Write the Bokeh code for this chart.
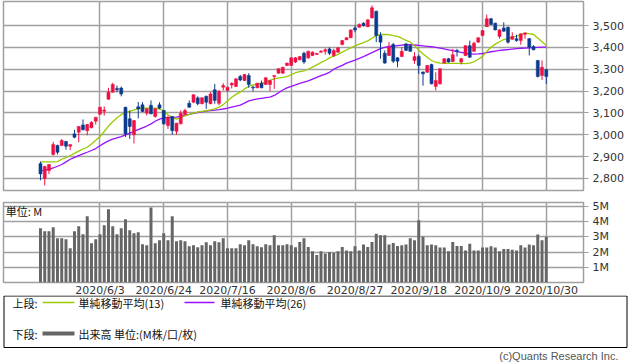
from bokeh.plotting import figure
from bokeh.layouts import column, row
from bokeh.models import Range1d, FixedTicker, NumeralTickFormatter
from bokeh.embed import file_html
from bokeh.resources import INLINE
from bokeh.core.properties import value

# ---------------- data ----------------
date_labels = ["2020/6/3", "2020/6/24", "2020/7/16", "2020/8/6",
               "2020/8/27", "2020/9/18", "2020/10/9", "2020/10/30"]
label_bars = [14, 29, 44, 59, 74, 89, 104, 119]

opens = [2868, 2800, 2836, 2910, 2951, 2951, 2969, 2948, 3004, 3012,
         3045, 3019, 3032, 3062, 3094, 3108, 3163, 3195, 3212, 3214,
         3126, 3073, 3000, 3128, 3137, 3099, 3135, 3084, 3137, 3111,
         3042, 3084, 3016, 3050, 3093, 3144, 3149, 3169, 3142, 3176,
         3142, 3206, 3144, 3218, 3203, 3228, 3221, 3267, 3248, 3271,
         3218, 3215, 3236, 3230, 3230, 3267, 3282, 3282, 3317, 3317,
         3333, 3343, 3373, 3352, 3363, 3368, 3378, 3382, 3393, 3363,
         3378, 3413, 3435, 3444, 3489, 3492, 3511, 3495, 3535, 3565,
         3454, 3373, 3363, 3413, 3352, 3358, 3416, 3408, 3340, 3358,
         3287, 3286, 3322, 3221, 3233, 3329, 3348, 3335, 3386, 3333,
         3363, 3408, 3382, 3424, 3454, 3495, 3531, 3511, 3450, 3489,
         3492, 3437, 3440, 3431, 3460, 3440, 3404, 3340, 3271, 3298]
highs = [2877, 2858, 2866, 2968, 2955, 2980, 2972, 2956, 3023, 3040,
         3070, 3050, 3062, 3082, 3128, 3130, 3215, 3238, 3225, 3221,
         3128, 3111, 3068, 3150, 3149, 3121, 3157, 3121, 3149, 3114,
         3088, 3086, 3055, 3111, 3119, 3157, 3185, 3176, 3172, 3180,
         3195, 3233, 3205, 3236, 3220, 3240, 3258, 3274, 3278, 3282,
         3225, 3238, 3248, 3263, 3250, 3272, 3305, 3311, 3330, 3354,
         3356, 3360, 3380, 3385, 3382, 3375, 3388, 3396, 3400, 3393,
         3400, 3433, 3446, 3482, 3500, 3510, 3515, 3528, 3592, 3568,
         3469, 3386, 3424, 3420, 3355, 3401, 3420, 3411, 3378, 3367,
         3290, 3320, 3325, 3286, 3305, 3350, 3352, 3393, 3393, 3352,
         3410, 3431, 3426, 3446, 3479, 3550, 3535, 3513, 3484, 3515,
         3496, 3469, 3458, 3464, 3468, 3443, 3410, 3342, 3340, 3302]
lows = [2792, 2768, 2820, 2905, 2910, 2948, 2932, 2930, 2984, 2966,
        3020, 2998, 3030, 3047, 3092, 3088, 3160, 3193, 3195, 3176,
        2990, 2981, 2960, 3075, 3104, 3088, 3094, 3078, 3118, 3046,
        3027, 3001, 3001, 3048, 3090, 3124, 3145, 3135, 3140, 3119,
        3140, 3142, 3135, 3203, 3197, 3212, 3218, 3245, 3246, 3215,
        3199, 3213, 3213, 3228, 3199, 3210, 3280, 3280, 3315, 3315,
        3328, 3341, 3325, 3348, 3360, 3365, 3376, 3367, 3365, 3356,
        3376, 3410, 3433, 3442, 3469, 3490, 3495, 3493, 3533, 3424,
        3348, 3325, 3360, 3328, 3309, 3356, 3384, 3380, 3325, 3279,
        3225, 3284, 3231, 3203, 3230, 3327, 3330, 3333, 3358, 3322,
        3360, 3352, 3380, 3422, 3452, 3493, 3503, 3478, 3440, 3472,
        3417, 3435, 3426, 3412, 3440, 3363, 3387, 3262, 3251, 3233]
closes = [2821, 2855, 2864, 2955, 2920, 2974, 2948, 2955, 2989, 3038,
          3023, 3047, 3057, 3080, 3126, 3113, 3195, 3230, 3206, 3187,
          3004, 3038, 3065, 3118, 3106, 3119, 3096, 3119, 3122, 3050,
          3080, 3019, 3053, 3099, 3111, 3126, 3183, 3142, 3169, 3149,
          3187, 3157, 3199, 3225, 3218, 3236, 3256, 3251, 3276, 3230,
          3214, 3236, 3215, 3261, 3248, 3271, 3302, 3309, 3328, 3352,
          3352, 3358, 3333, 3382, 3378, 3372, 3382, 3389, 3373, 3386,
          3398, 3431, 3444, 3480, 3480, 3505, 3500, 3526, 3581, 3454,
          3424, 3328, 3401, 3337, 3337, 3382, 3386, 3382, 3358, 3317,
          3279, 3317, 3233, 3248, 3302, 3348, 3333, 3366, 3381, 3348,
          3408, 3355, 3419, 3444, 3477, 3531, 3505, 3480, 3480, 3474,
          3424, 3450, 3431, 3462, 3466, 3401, 3389, 3267, 3309, 3267]
ma13 = [2876, 2876, 2876, 2876, 2877, 2888, 2895, 2905, 2915, 2925,
        2935, 2943, 2958, 2975, 2992, 3015, 3040, 3060, 3078, 3092,
        3102, 3107, 3114, 3120, 3122, 3122, 3122, 3122, 3118, 3110,
        3092, 3080, 3072, 3078, 3087, 3093, 3099, 3104, 3107, 3110,
        3114, 3119, 3126, 3138, 3155, 3172, 3185, 3195, 3210, 3222,
        3228, 3232, 3236, 3240, 3250, 3256, 3260, 3263, 3266, 3275,
        3284, 3289, 3292, 3300, 3310, 3320, 3330, 3340, 3352, 3360,
        3368, 3378, 3388, 3398, 3407, 3415, 3422, 3430, 3442, 3455,
        3459, 3460, 3458, 3454, 3450, 3442, 3432, 3424, 3408, 3388,
        3370, 3355, 3340, 3332, 3328, 3327, 3327, 3327, 3327, 3327,
        3326, 3328, 3334, 3346, 3359, 3382, 3401, 3415, 3426, 3436,
        3440, 3446, 3452, 3457, 3465, 3463, 3459, 3443, 3426, 3408]
ma26 = [2836, 2838, 2842, 2848, 2856, 2864, 2876, 2888, 2897, 2905,
        2913, 2920, 2928, 2937, 2950, 2962, 2972, 2980, 2986, 2992,
        3000, 3008, 3016, 3024, 3032, 3040, 3050, 3062, 3072, 3077,
        3078, 3080, 3081, 3084, 3089, 3093, 3098, 3102, 3105, 3108,
        3111, 3113, 3115, 3118, 3122, 3127, 3131, 3136, 3145, 3155,
        3160, 3164, 3167, 3170, 3172, 3180, 3192, 3205, 3215, 3222,
        3228, 3235, 3241, 3247, 3255, 3263, 3271, 3278, 3286, 3300,
        3310, 3318, 3328, 3335, 3342, 3350, 3358, 3367, 3376, 3385,
        3394, 3400, 3404, 3406, 3408, 3410, 3412, 3413, 3411, 3409,
        3407, 3405, 3403, 3400, 3397, 3393, 3389, 3385, 3381, 3377,
        3373, 3370, 3369, 3370, 3372, 3376, 3380, 3383, 3386, 3388,
        3390, 3392, 3394, 3396, 3397, 3398, 3399, 3400, 3401, 3401]
volume_m = [3.56, 3.36, 3.36, 3.62, 2.90, 2.90, 2.84, 2.25, 3.36, 3.69,
            3.16, 4.35, 2.58, 2.84, 3.16, 3.76, 4.80, 3.69, 3.16, 3.56,
            4.15, 3.43, 3.23, 3.30, 2.51, 2.45, 4.93, 2.58, 2.78, 3.23,
            2.78, 4.35, 2.71, 2.78, 2.71, 2.38, 2.45, 2.32, 2.45, 2.64,
            2.45, 2.71, 2.64, 2.90, 2.25, 2.25, 2.25, 2.51, 2.45, 2.78,
            2.51, 2.38, 2.32, 2.51, 2.45, 3.10, 2.45, 2.45, 2.51, 2.45,
            2.32, 2.66, 2.90, 2.33, 2.05, 1.80, 2.05, 1.90, 2.00, 1.95,
            2.05, 2.33, 2.10, 2.05, 2.38, 2.10, 2.50, 2.33, 2.66, 3.20,
            3.10, 3.10, 2.50, 2.60, 2.40, 2.45, 2.50, 2.90, 2.78, 4.08,
            3.00, 2.45, 2.50, 2.45, 2.30, 2.30, 2.05, 2.66, 2.40, 2.40,
            2.10, 2.55, 2.10, 2.10, 2.30, 2.30, 2.38, 2.30, 2.05, 2.20,
            2.20, 2.15, 2.10, 2.45, 2.30, 2.50, 2.45, 3.15, 2.78, 3.00]
price_ticks = [2800, 2900, 3000, 3100, 3200, 3300, 3400, 3500]
volume_ticks = [1, 2, 3, 4, 5]

# ---------------- styles ----------------
RED = "#ee1144"
BLUE = "#0b3a8e"
GREEN = "#99cc00"
PURPLE = "#9911ff"
GRID = "#a0a0a0"
VOLC = "#666666"
TXT = "#333333"
FONT = "DejaVu Sans"
JFONT = "Noto Sans CJK JP"
W = 638

idx = list(range(len(closes)))
up = [c >= o for o, c in zip(opens, closes)]
cols = [RED if u else BLUE for u in up]
tops = [max(o, c) for o, c in zip(opens, closes)]
bots = [min(o, c) for o, c in zip(opens, closes)]

xr = Range1d(-8.7, 127.76)

def style_axis_right(ax, ticks, size="11px"):
    ax.ticker = FixedTicker(ticks=ticks)
    ax.axis_line_color = None
    ax.major_tick_out = 5
    ax.major_tick_in = 0
    ax.major_tick_line_color = GRID
    ax.minor_tick_line_color = None
    ax.major_label_text_font = FONT
    ax.major_label_text_font_size = size
    ax.major_label_text_color = TXT
    ax.major_label_standoff = 4

# ---------------- price panel ----------------
p1 = figure(width=W, height=195, x_range=xr, y_range=Range1d(2745, 3610),
            x_axis_location=None, y_axis_location="right",
            min_border_left=3, min_border_right=55, min_border_top=1,
            min_border_bottom=5, output_backend="svg", toolbar_location=None)
p1.outline_line_color = GRID
p1.outline_line_width = 1.5
p1.xgrid.ticker = FixedTicker(ticks=label_bars)
p1.ygrid.ticker = FixedTicker(ticks=price_ticks)
p1.grid.grid_line_color = GRID
p1.grid.grid_line_width = 1.5
style_axis_right(p1.yaxis[0], price_ticks)
p1.yaxis[0].formatter = NumeralTickFormatter(format="0,0")

p1.line(idx, ma26, line_color=PURPLE, line_width=1.3)
p1.line(idx, ma13, line_color=GREEN, line_width=1.3)
p1.segment(x0=idx, y0=lows, x1=idx, y1=highs, line_color=cols, line_width=1)
p1.vbar(x=idx, top=tops, bottom=bots, width=0.72, fill_color=cols,
        line_color=cols, line_width=0.5)

# ---------------- volume panel ----------------
# frame 80 px tall (7 px top border, 20 px bottom border holding the dates)
p2 = figure(width=W, height=107, x_range=xr, y_range=Range1d(0, 5.25),
            x_axis_location="below", y_axis_location="right",
            min_border_left=3, min_border_right=55, min_border_top=7,
            min_border_bottom=20, output_backend="svg", toolbar_location=None)
p2.outline_line_color = GRID
p2.outline_line_width = 1.5
p2.xgrid.ticker = FixedTicker(ticks=label_bars)
p2.ygrid.ticker = FixedTicker(ticks=volume_ticks)
p2.grid.grid_line_color = GRID
p2.grid.grid_line_width = 1.5
style_axis_right(p2.yaxis[0], volume_ticks)
p2.yaxis[0].major_label_overrides = {t: f"{t}M" for t in volume_ticks}
xa = p2.xaxis[0]
xa.ticker = FixedTicker(ticks=label_bars)
xa.major_label_overrides = {b: d for b, d in zip(label_bars, date_labels)}
xa.axis_line_color = None
xa.major_tick_out = 0
xa.major_tick_in = 0
xa.minor_tick_line_color = None
xa.major_label_text_font = FONT
xa.major_label_text_font_size = "11px"
xa.major_label_text_color = TXT
xa.major_label_standoff = 1

p2.vbar(x=idx, top=volume_m, bottom=0, width=0.7, fill_color=VOLC,
        line_color=None)
p2.text(x=[-8.2], y=[4.72], text=["単位: M"], text_font=value(JFONT),
        text_font_size="11px", text_baseline="middle", text_color="#111111")

# ---------------- legend / footer ----------------
H3 = 67
p3 = figure(width=W, height=H3, x_range=Range1d(0, W), y_range=Range1d(H3, 0),
            min_border=0, min_border_left=0, min_border_right=0,
            min_border_top=0, min_border_bottom=0,
            output_backend="svg", toolbar_location=None,
            x_axis_location=None, y_axis_location=None)
p3.outline_line_color = None
p3.background_fill_color = None
p3.border_fill_color = None
p3.grid.visible = False
p3.margin = (-7, 0, 0, 0)
p3.quad(left=[3.5], right=[626.5], top=[0.5], bottom=[52], fill_color=None,
        line_color="#000000", line_width=1)
p3.text(x=[12, 78, 220, 12, 78],
        y=[7, 7, 7, 38, 38],
        text=["上段:", "単純移動平均(13)", "単純移動平均(26)", "下段:",
              "出来高 単位:(M株/口/枚)"],
        text_font=value(JFONT), text_font_size="11px",
        text_baseline="middle", text_color="#111111")
p3.segment(x0=[42, 184], y0=[7, 7], x1=[74, 214], y1=[7, 7],
           line_color=[GREEN, PURPLE], line_width=1.3)
p3.segment(x0=[42], y0=[38], x1=[74], y1=[38], line_color=VOLC, line_width=4)
p3.text(x=[618], y=[60], text=["(c)Quants Research Inc."],
        text_font=value("Liberation Sans"), text_font_size="11px",
        text_baseline="middle", text_align="right", text_color="#555555")

layout = column(column(p1, p2, spacing=0), row(p3), spacing=0)
open("out.html", "w").write(file_html(layout, INLINE))
